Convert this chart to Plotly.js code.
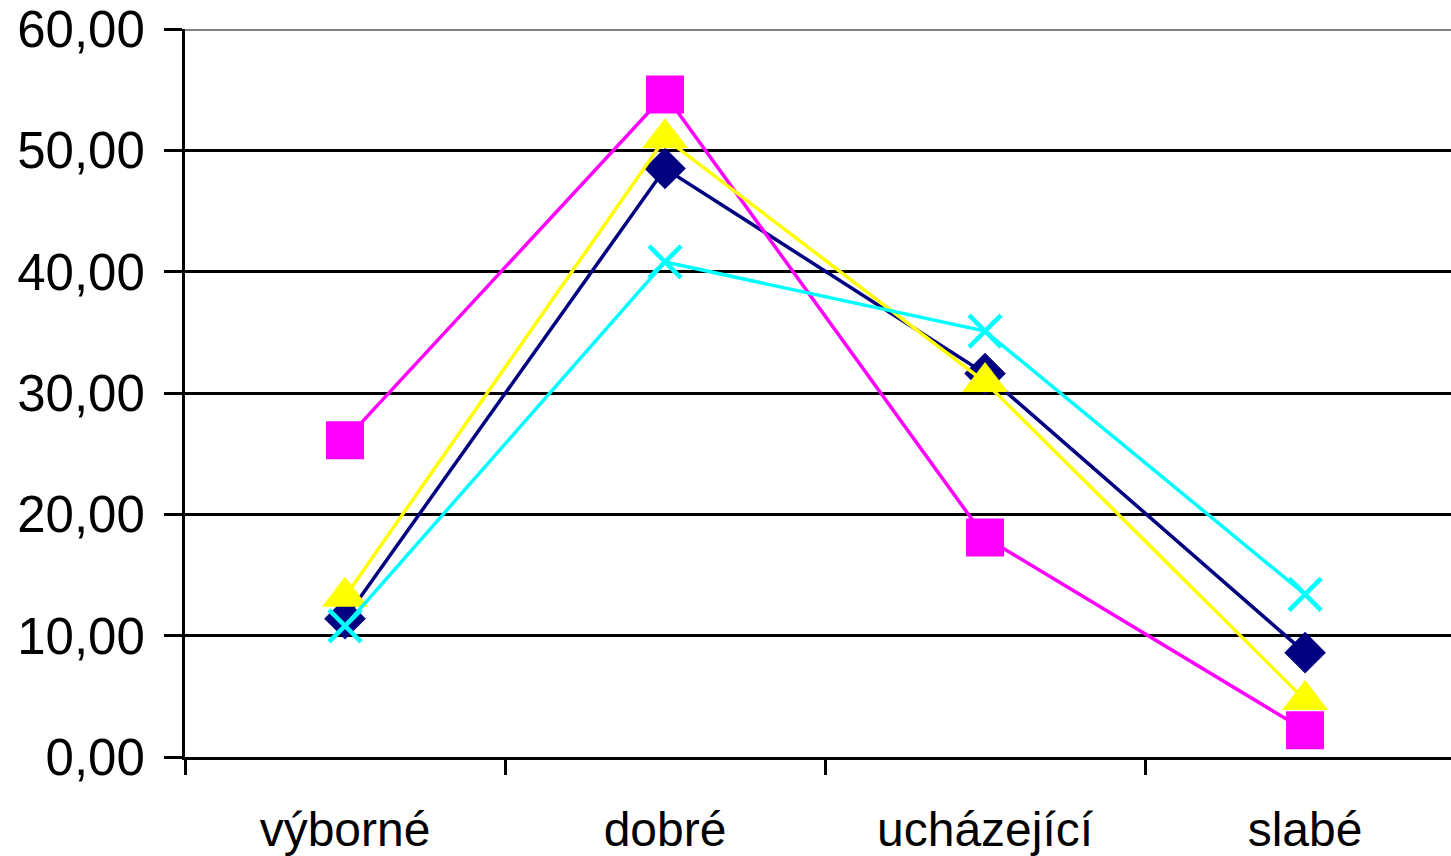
<!DOCTYPE html>
<html>
<head>
<meta charset="utf-8">
<script src="https://cdn.plot.ly/plotly-3.0.1.min.js"></script>
<style>html,body{margin:0;padding:0;background:#fff;}#chart{width:1451px;height:856px;}</style>
</head>
<body>
<div id="chart"></div>
<script>
const categories = ["výborné", "dobré", "ucházející", "slabé"];
const seriesNavy = [11.4, 48.5, 31.6, 8.6];
const seriesMagenta = [26.1, 54.6, 18.1, 2.2];
const seriesYellow = [13.2, 51.0, 30.9, 4.7];
const seriesCyan = [10.8, 40.8, 35.1, 13.4];
const yTicks = [0, 10, 20, 30, 40, 50, 60];

function tr(y, color, symbol, size, extra) {
  return Object.assign({
    type: 'scatter', mode: 'lines+markers', x: categories, y: y,
    line: {color: color, width: 3.5},
    marker: {symbol: symbol, size: size, color: color, line: {width: 0}},
    cliponaxis: false, showlegend: false, hoverinfo: 'skip'
  }, extra || {});
}

const data = [
  tr(seriesNavy, '#000080', 'diamond', 32),
  tr(seriesMagenta, '#FF00FF', 'square', 38),
  tr(seriesYellow, '#FFFF00', 'triangle-up', 40),
  tr(seriesCyan, '#00FFFF', 'x-thin-open', 32, {marker: {symbol: 'x-thin-open', size: 32, color: '#00FFFF', line: {width: 4.5, color: '#00FFFF'}}})
];

const layout = {
  width: 1451, height: 856,
  margin: {l: 185, r: 0, t: 29, b: 99},
  paper_bgcolor: '#ffffff', plot_bgcolor: '#ffffff',
  font: {family: 'Liberation Sans, Arial, sans-serif', size: 48, color: '#000'},
  separators: ',.',
  xaxis: {
    type: 'category', range: [-0.5, 3.456],
    tickson: 'boundaries', ticks: 'outside', ticklen: 15, tickwidth: 3, tickcolor: '#000',
    showgrid: false, showline: true, linecolor: '#000', linewidth: 3,
    ticklabelstandoff: 28, tickfont: {size: 48}, zeroline: false
  },
  yaxis: {
    range: [0, 60], tickvals: yTicks, tickformat: '.2f',
    ticks: 'outside', ticklen: 18, tickwidth: 3, tickcolor: '#000',
    showgrid: true, gridcolor: '#000', gridwidth: 3,
    showline: true, linecolor: '#000', linewidth: 3, zeroline: false,
    ticklabelstandoff: 9, tickfont: {size: 51}
  },
  shapes: [{type: 'line', xref: 'paper', yref: 'y', x0: 0, x1: 1, y0: 60, y1: 60, line: {color: '#808080', width: 4}, layer: 'below'}]
};

Plotly.newPlot('chart', data, layout, {staticPlot: true, displayModeBar: false});
</script>
</body>
</html>
